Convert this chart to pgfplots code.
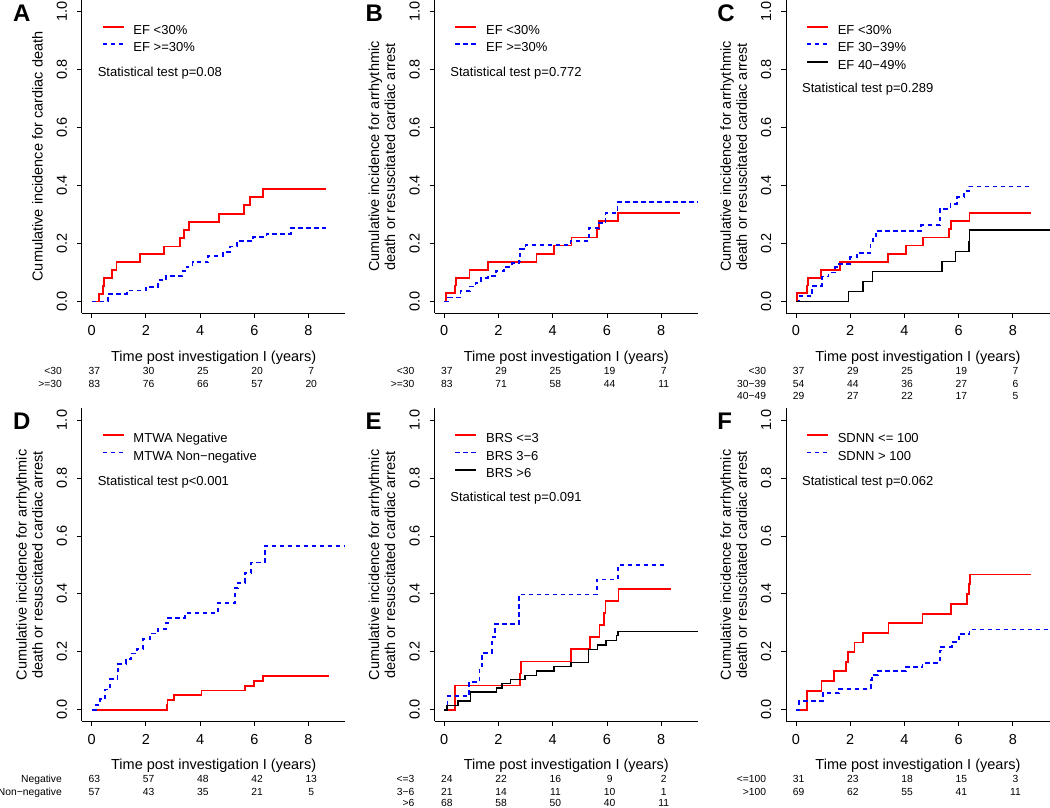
\documentclass[border=0pt]{standalone}
\usepackage{fontspec}
\setmainfont{Liberation Sans}
\usepackage{pgfplots}
\pgfplotsset{compat=1.18}
\newcommand\axf{\fontsize{14.5}{16}\selectfont}
\newcommand\lgf{\fontsize{13}{15}\selectfont}
\newcommand\rkf{\fontsize{10.3}{12}\selectfont}
\newcommand\ltf{\fontsize{24}{26}\selectfont\bfseries}
\definecolor{rred}{RGB}{255,0,0}
\definecolor{rblue}{RGB}{0,0,255}
\pgfplotsset{
 km/.style={
  scale only axis, width=263.5pt, height=313pt, anchor=north west,
  xmin=-0.36, xmax=9.36, ymin=-0.04, ymax=1.04,
  axis x line*=bottom, axis y line*=left,
  axis line style={-, line width=0.8pt, black},
  xtick={0,2,4,6,8}, ytick={0,0.2,0.4,0.6,0.8,1.0},
  tick align=outside, major tick length=5pt,
  tick style={line width=0.8pt, black},
  tick label style={font=\axf},
  /pgf/number format/assume math mode=true,
  y tick label style={/pgf/number format/fixed, /pgf/number format/fixed zerofill, /pgf/number format/precision=1},
  yticklabel style={xshift=-10pt, rotate=90, anchor=base, inner sep=0pt},
  xticklabel style={yshift=-17.7pt, anchor=base, inner sep=0pt},
  xlabel={Time post investigation I (years)},
  every axis x label/.style={at={(rel axis cs:0.5,0)}, anchor=base, yshift=-48.4pt, font=\axf, inner sep=0pt},
  every axis y label/.style={at={(rel axis cs:0,0.5)}, xshift=-39pt, rotate=90, anchor=south, align=center, font=\axf, inner sep=0pt},
  clip=false,
  const plot,
  legend style={anchor=north west, draw=none, fill=none, inner sep=0pt, outer sep=0pt, row sep=4.6pt, font=\lgf,
     nodes={inner sep=0pt, text height=9.5pt, text depth=3.5pt}},
  legend cell align=left,
  legend image code/.code={\draw[##1] (0pt,4.6pt) -- (21pt,4.6pt); \path (30pt,4.6pt);},
 },
 rl/.style={rred, line width=1.8pt},
 bl/.style={rblue, line width=1.8pt, dash pattern=on 4.5pt off 3.5pt},
 kl/.style={black, line width=1.5pt},
}
\newcommand\rrow[7]{%
 \node[anchor=base east, font=\rkf] at (axis cs:-0.97,#1) {#2};
 \node[anchor=base, font=\rkf] at (axis cs:0.1,#1) {#3};
 \node[anchor=base, font=\rkf] at (axis cs:2.1,#1) {#4};
 \node[anchor=base, font=\rkf] at (axis cs:4.1,#1) {#5};
 \node[anchor=base, font=\rkf] at (axis cs:6.1,#1) {#6};
 \node[anchor=base, font=\rkf] at (axis cs:8.1,#1) {#7};
}
\newcommand\letter[1]{\node[anchor=base west, font=\ltf, inner sep=0pt, xshift=-69pt, yshift=-21pt] at (rel axis cs:0,1) {#1};}
\newcommand\stat[2]{\node[anchor=base west, font=\lgf, inner sep=0pt] at (axis cs:0.22,#1) {Statistical test #2};}
\begin{document}
\begin{tikzpicture}
\useasboundingbox (0,0) rectangle (1050pt,-807pt);
% ---------- A
\begin{axis}[km, at={(81.9pt,-0.07pt)}, ylabel={Cumulative incidence for cardiac death},
  legend style={at={(axis cs:0.37,0.955)}}]
\addplot[rl] coordinates {(0,0) (0.28,0.027) (0.42,0.054) (0.45,0.081) (0.74,0.108) (0.92,0.135) (1.79,0.163) (2.67,0.19) (3.26,0.219) (3.41,0.247) (3.6,0.275) (4.69,0.303) (5.62,0.332) (5.85,0.36) (6.32,0.388) (8.65,0.388)};
\addlegendentry{EF <30\%}
\addplot[bl] coordinates {(0,0) (0.6,0.025) (1.3,0.038) (2.0,0.05) (2.45,0.073) (2.75,0.087) (3.35,0.105) (3.5,0.12) (3.72,0.135) (4.3,0.158) (4.85,0.17) (5.1,0.19) (5.35,0.208) (5.95,0.222) (6.45,0.232) (7.35,0.253) (8.65,0.253)};
\addlegendentry{EF >=30\%}
\stat{0.775}{p=0.08}
\letter{A}
\rrow{-0.2505}{<30}{37}{30}{25}{20}{7}
\rrow{-0.2964}{>=30}{83}{76}{66}{57}{20}
\end{axis}
% ---------- B
\begin{axis}[km, at={(434.5pt,-0.07pt)}, ylabel={Cumulative incidence for arrhythmic\\death or resuscitated cardiac arrest},
  legend style={at={(axis cs:0.37,0.955)}}]
\addplot[rl] coordinates {(0,0) (0.05,0.029) (0.41,0.055) (0.43,0.081) (0.93,0.108) (1.62,0.136) (3.4,0.164) (4.05,0.193) (4.69,0.221) (5.64,0.25) (5.72,0.277) (6.4,0.305) (8.69,0.305)};
\addlegendentry{EF <30\%}
\addplot[bl] coordinates {(0,0) (0.15,0.014) (0.6,0.037) (0.95,0.052) (1.15,0.065) (1.35,0.08) (1.6,0.087) (1.9,0.105) (2.2,0.12) (2.5,0.132) (2.75,0.14) (2.8,0.18) (3.0,0.195) (4.66,0.208) (5.34,0.253) (5.7,0.27) (5.95,0.305) (6.39,0.342) (9.36,0.342)};
\addlegendentry{EF >=30\%}
\stat{0.775}{p=0.772}
\letter{B}
\rrow{-0.2505}{<30}{37}{29}{25}{19}{7}
\rrow{-0.2964}{>=30}{83}{71}{58}{44}{11}
\end{axis}
% ---------- C
\begin{axis}[km, at={(786.2pt,-0.07pt)}, ylabel={Cumulative incidence for arrhythmic\\death or resuscitated cardiac arrest},
  legend style={at={(axis cs:0.37,0.955)}}]
\addplot[rl] coordinates {(0,0) (0.05,0.029) (0.41,0.055) (0.43,0.081) (0.93,0.108) (1.62,0.136) (3.4,0.164) (4.05,0.193) (4.69,0.221) (5.64,0.25) (5.72,0.277) (6.4,0.305) (8.66,0.305)};
\addlegendentry{EF <30\%}
\addplot[bl] coordinates {(0,0) (0.1,0.018) (0.6,0.054) (0.97,0.086) (1.2,0.1) (1.45,0.12) (1.6,0.13) (2.0,0.153) (2.25,0.168) (2.75,0.207) (2.85,0.224) (2.95,0.244) (4.62,0.263) (5.3,0.32) (5.7,0.337) (5.95,0.36) (6.2,0.38) (6.38,0.397) (8.62,0.397)};
\addlegendentry{EF 30−39\%}
\addplot[kl] coordinates {(0,0) (1.94,0.035) (2.48,0.069) (2.82,0.103) (5.39,0.138) (5.88,0.172) (6.38,0.207) (6.4,0.247) (9.36,0.247)};
\addlegendentry{EF 40−49\%}
\stat{0.72}{p=0.289}
\letter{C}
\rrow{-0.2505}{<30}{37}{29}{25}{19}{7}
\rrow{-0.2964}{30−39}{54}{44}{36}{27}{6}
\rrow{-0.3395}{40−49}{29}{27}{22}{17}{5}
\end{axis}
% ---------- D
\begin{axis}[km, at={(81.9pt,-408.4pt)}, ylabel={Cumulative incidence for arrhythmic\\death or resuscitated cardiac arrest},
  legend style={at={(axis cs:0.37,0.955)}}]
\addplot[rl] coordinates {(0,0) (2.77,0.017) (2.8,0.034) (3.04,0.05) (4.05,0.067) (5.67,0.083) (5.98,0.099) (6.32,0.116) (8.77,0.116)};
\addlegendentry{MTWA Negative}
\addplot[bl] coordinates {(0,0) (0.15,0.018) (0.3,0.036) (0.5,0.07) (0.68,0.105) (0.95,0.125) (0.98,0.159) (1.26,0.175) (1.45,0.194) (1.66,0.211) (1.9,0.245) (2.15,0.263) (2.45,0.28) (2.75,0.3) (2.82,0.318) (3.44,0.334) (4.66,0.369) (5.3,0.42) (5.4,0.438) (5.65,0.472) (5.89,0.508) (6.38,0.566) (9.36,0.566)};
\addlegendentry{MTWA Non−negative}
\stat{0.775}{p<0.001}
\letter{D}
\rrow{-0.2505}{Negative}{63}{57}{48}{42}{13}
\rrow{-0.2964}{Non−negative}{57}{43}{35}{21}{5}
\end{axis}
% ---------- E
\begin{axis}[km, at={(434.5pt,-408.4pt)}, ylabel={Cumulative incidence for arrhythmic\\death or resuscitated cardiac arrest},
  legend style={at={(axis cs:0.37,0.955)}}]
\addplot[rl] coordinates {(0,0) (0.41,0.084) (2.78,0.125) (2.82,0.167) (4.67,0.209) (5.39,0.251) (5.73,0.294) (5.89,0.335) (5.95,0.376) (6.43,0.418) (8.35,0.418)};
\addlegendentry{BRS <=3}
\addplot[bl] coordinates {(0,0) (0.12,0.047) (0.92,0.096) (1.3,0.15) (1.4,0.197) (1.75,0.25) (1.88,0.297) (2.76,0.398) (5.63,0.45) (6.4,0.499) (8.13,0.499)};
\addlegendentry{BRS 3−6}
\addplot[kl] coordinates {(0,0) (0.1,0.015) (0.5,0.03) (0.97,0.061) (1.93,0.075) (2.13,0.09) (2.45,0.104) (2.98,0.119) (3.41,0.134) (4.05,0.149) (4.67,0.164) (5.32,0.208) (5.66,0.224) (5.97,0.24) (6.35,0.256) (6.4,0.271) (9.36,0.271)};
\addlegendentry{BRS >6}
\stat{0.72}{p=0.091}
\letter{E}
\rrow{-0.2505}{<=3}{24}{22}{16}{9}{2}
\rrow{-0.2964}{3−6}{21}{14}{11}{10}{1}
\rrow{-0.333}{>6}{68}{58}{50}{40}{11}
\end{axis}
% ---------- F
\begin{axis}[km, at={(786.2pt,-408.4pt)}, ylabel={Cumulative incidence for arrhythmic\\death or resuscitated cardiac arrest},
  legend style={at={(axis cs:0.37,0.955)}}]
\addplot[rl] coordinates {(0,0) (0.4,0.066) (0.94,0.099) (1.41,0.133) (1.86,0.165) (1.92,0.2) (2.16,0.232) (2.46,0.265) (3.41,0.3) (4.67,0.332) (5.71,0.365) (6.32,0.399) (6.37,0.433) (6.42,0.467) (8.68,0.467)};
\addlegendentry{SDNN <= 100}
\addplot[bl] coordinates {(0,0) (0.12,0.03) (1.0,0.059) (1.6,0.073) (2.76,0.104) (2.8,0.119) (3.02,0.133) (4.05,0.147) (4.67,0.162) (5.3,0.205) (5.35,0.218) (5.75,0.234) (6.0,0.262) (6.4,0.277) (9.36,0.277)};
\addlegendentry{SDNN > 100}
\stat{0.775}{p=0.062}
\letter{F}
\rrow{-0.2505}{<=100}{31}{23}{18}{15}{3}
\rrow{-0.2964}{>100}{69}{62}{55}{41}{11}
\end{axis}
\end{tikzpicture}
\end{document}
